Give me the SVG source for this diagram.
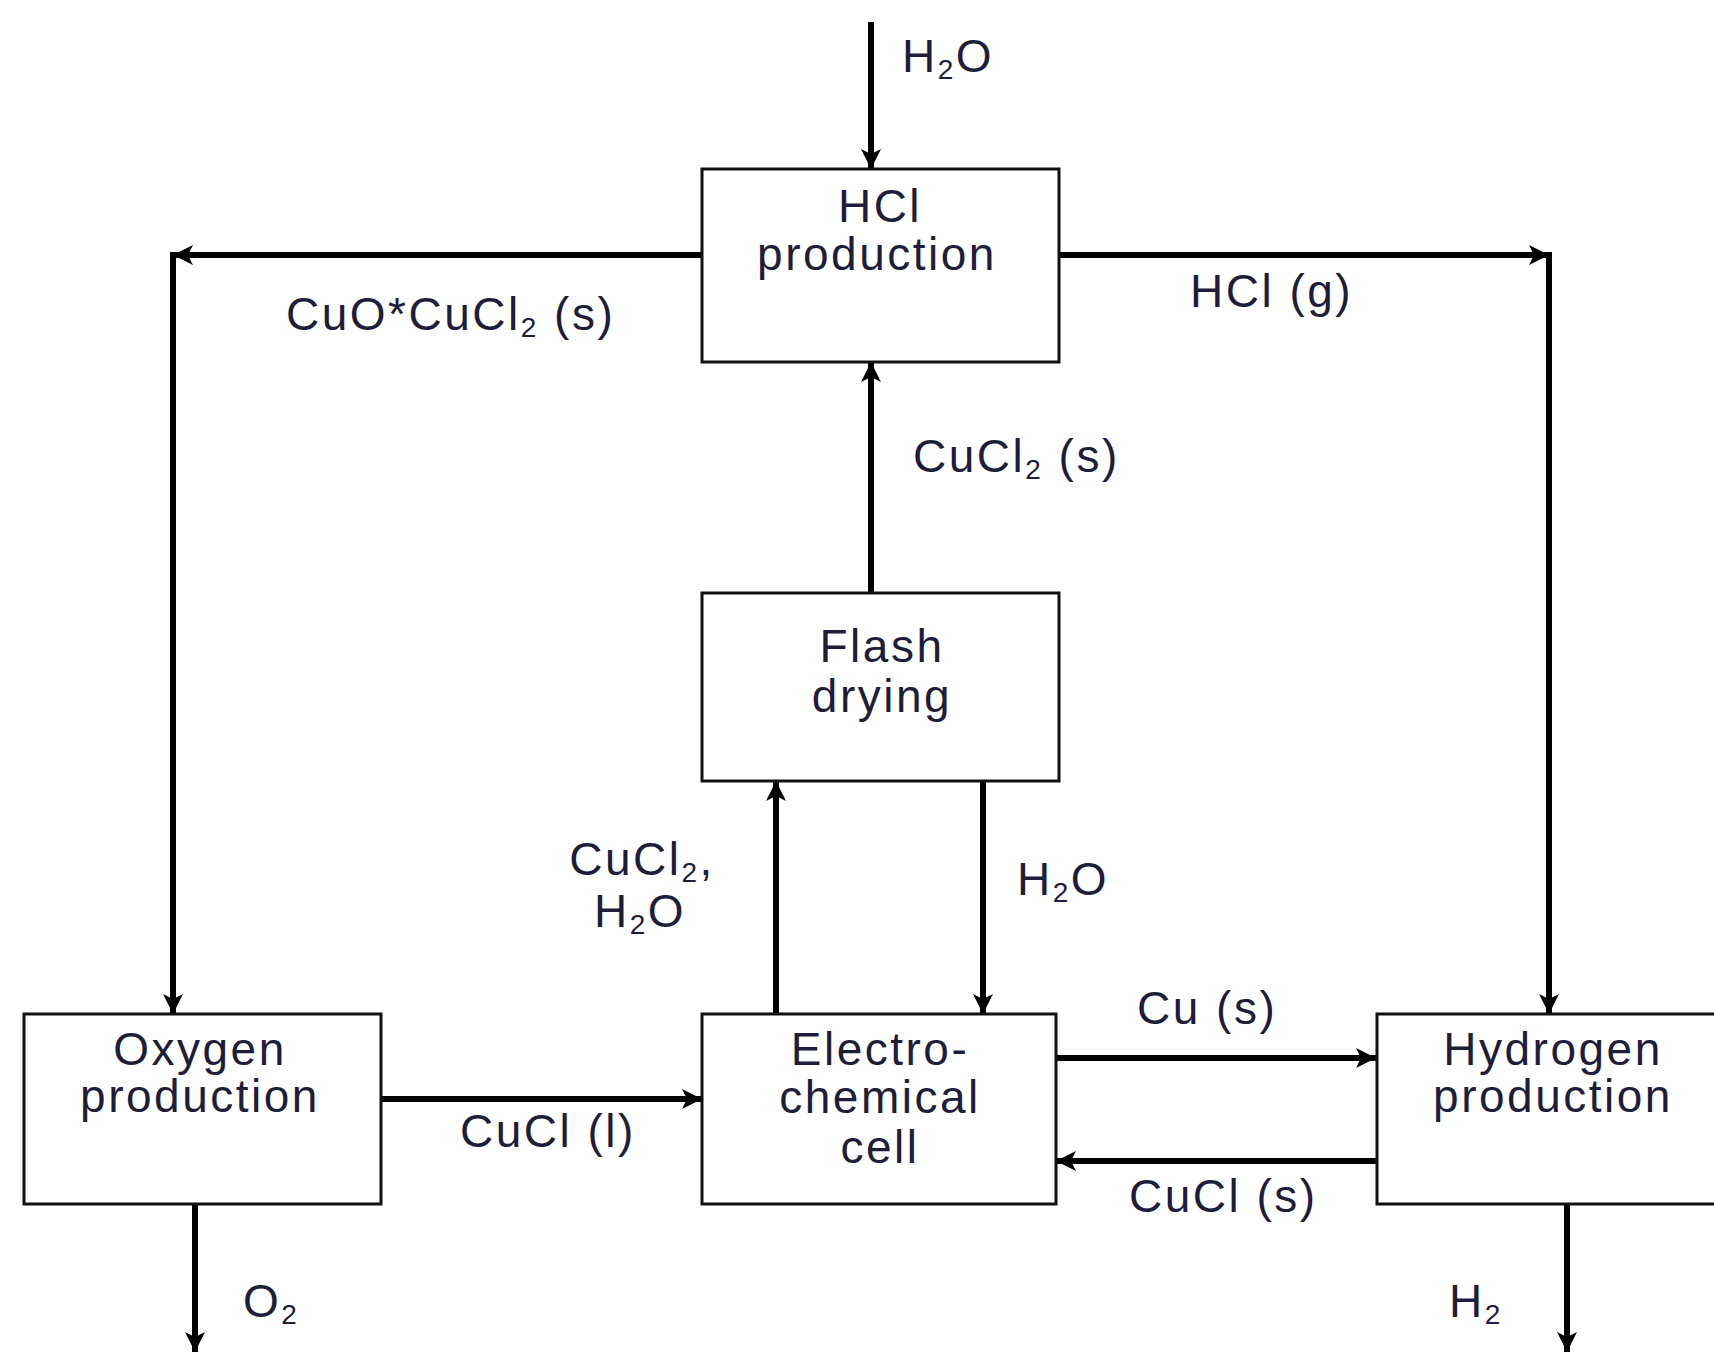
<svg xmlns="http://www.w3.org/2000/svg" width="1714" height="1352" viewBox="0 0 1714 1352">
<style>
.box{fill:#fff;stroke:#111;stroke-width:3}
.t{font-family:"Liberation Sans",Arial,sans-serif;font-size:46px;fill:#1e1d3a;letter-spacing:2.5px}
.c{text-anchor:middle}
.sub{font-size:28px}
.con path{fill:none;stroke:#000;stroke-width:6;marker-end:url(#ah)}
</style>
<defs>
<marker id="ah" markerUnits="userSpaceOnUse" markerWidth="22" markerHeight="20" refX="20" refY="10" orient="auto">
<path d="M0,0 L20,10 L0,20 L5,10 z" fill="#000"/>
</marker>
</defs>
<rect width="1714" height="1352" fill="#fff"/>
<g id="connectors" class="con">
<path d="M871,22 V169"/>
<path d="M702,255 H173"/>
<path d="M173,252 V1014"/>
<path d="M1059,255 H1549"/>
<path d="M1549,252 V1014"/>
<path d="M871,593 V362"/>
<path d="M776,1014 V781"/>
<path d="M983,781 V1014"/>
<path d="M381,1099 H702"/>
<path d="M1056,1058 H1376"/>
<path d="M1378,1161 H1056"/>
<path d="M195,1204 V1352"/>
<path d="M1567,1204 V1352"/>
</g>
<g id="hcl">
<rect class="box" x="702" y="169" width="357" height="193"/>
<text class="t c" x="880" y="222">HCl</text>
<text class="t c" x="877" y="270">production</text>
</g>
<g id="flash">
<rect class="box" x="702" y="593" width="357" height="188"/>
<text class="t c" x="882" y="662">Flash</text>
<text class="t c" x="882" y="712">drying</text>
</g>
<g id="oxygen">
<rect class="box" x="24" y="1014" width="357" height="190"/>
<text class="t c" x="200" y="1065">Oxygen</text>
<text class="t c" x="200" y="1112">production</text>
</g>
<g id="electro">
<rect class="box" x="702" y="1014" width="354" height="190"/>
<text class="t c" x="880" y="1065">Electro-</text>
<text class="t c" x="880" y="1113">chemical</text>
<text class="t c" x="880" y="1163">cell</text>
</g>
<g id="hydrogen">
<rect class="box" x="1377" y="1014" width="360" height="190"/>
<text class="t c" x="1553" y="1065">Hydrogen</text>
<text class="t c" x="1553" y="1112">production</text>
</g>
<g id="labels">
<text class="t" x="902" y="72">H<tspan class="sub" dy="7">2</tspan><tspan dy="-7">O</tspan></text>
<text class="t" x="286" y="330">CuO*CuCl<tspan class="sub" dy="7">2</tspan><tspan dy="-7"> (s)</tspan></text>
<text class="t" x="1190" y="307">HCl (g)</text>
<text class="t" x="913" y="472">CuCl<tspan class="sub" dy="7">2</tspan><tspan dy="-7"> (s)</tspan></text>
<text class="t c" x="642" y="875">CuCl<tspan class="sub" dy="7">2</tspan><tspan dy="-7">,</tspan></text>
<text class="t c" x="640" y="927">H<tspan class="sub" dy="7">2</tspan><tspan dy="-7">O</tspan></text>
<text class="t" x="1017" y="895">H<tspan class="sub" dy="7">2</tspan><tspan dy="-7">O</tspan></text>
<text class="t" x="460" y="1147">CuCl (l)</text>
<text class="t" x="1137" y="1024">Cu (s)</text>
<text class="t" x="1129" y="1212">CuCl (s)</text>
<text class="t" x="243" y="1317">O<tspan class="sub" dy="7">2</tspan></text>
<text class="t" x="1449" y="1317">H<tspan class="sub" dy="7">2</tspan></text>
</g>
</svg>
